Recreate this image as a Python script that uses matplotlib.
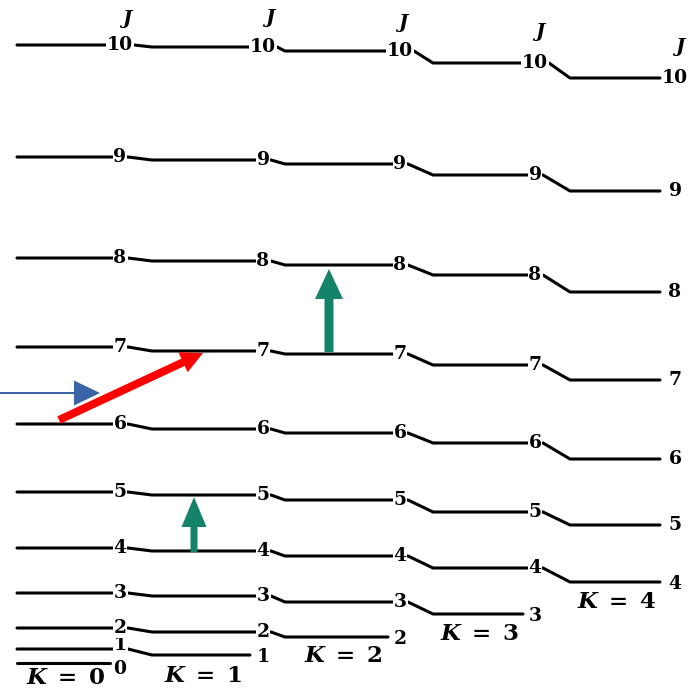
import matplotlib
matplotlib.use("Agg")
import matplotlib.pyplot as plt
from matplotlib.patches import FancyArrow

plt.rcParams['mathtext.fontset'] = 'custom'
plt.rcParams['mathtext.it'] = 'DejaVu Serif:italic:bold'
plt.rcParams['mathtext.rm'] = 'DejaVu Serif:bold'

# ---- level heights (pixel rows of the scan), J = K .. 10 for each K column ----
K_values = [0, 1, 2, 3, 4]
J_max = 10
levels = {
    0: [663, 649, 628, 593, 548, 492, 424, 347, 258, 157, 45],
    1: [655, 632, 596, 551, 495, 429, 351, 261, 160, 47],
    2: [637, 602, 556, 500, 433, 354, 265, 164, 51],
    3: [614, 568, 512, 443, 365, 275, 175, 63],
    4: [582, 525, 459, 380, 292, 191, 78],
}
K_labels = [r'$K\;=\;0$', r'$K\;=\;1$', r'$K\;=\;2$', r'$K\;=\;3$', r'$K\;=\;4$']

# column geometry
col_start = [17, 152, 285, 433, 570]
col_end = [110, 250, 388, 523, 660]
lab_x = [120, 263, 400, 535, 675]
K_lab_pos = [(66, 677), (203, 675), (343, 656), (480, 633), (617, 602)]
J_head_pos = [(127, 19), (270, 18), (403, 23), (540, 32), (680, 47)]

fig = plt.figure(figsize=(6.93, 6.94), dpi=100)
ax = fig.add_axes([0, 0, 1, 1])
ax.set_xlim(0, 693)
ax.set_ylim(694, 0)
ax.axis('off')

lw = 2.2
for J in range(J_max + 1):
    cols = [K for K in K_values if K <= J]
    xs, ys = [], []
    for i, K in enumerate(cols):
        y = levels[K][J - K]
        xs.append(col_start[K])
        ys.append(y)
        if i < len(cols) - 1:
            hw = 14 if J >= 10 else 8
            xs.append(lab_x[K] + hw)
        else:
            xs.append(col_end[K])
        ys.append(y)
    ax.plot(xs, ys, color='black', lw=lw, solid_capstyle='round', zorder=2)

    for i, K in enumerate(cols):
        y = levels[K][J - K]
        dy = 0
        last = i == len(cols) - 1
        if J == 0:
            dy = 6
        elif J == 1 and K == 0:
            dy = -4
        elif last and K == J and K > 0:
            dy = 2
        ax.text(lab_x[K], y + dy, str(J), ha='center', va='center',
                fontsize=13.5, fontweight='bold', family='DejaVu Serif',
                zorder=3,
                bbox=None if last else dict(boxstyle='square,pad=0.05',
                                             fc='white', ec='none'))

for (x, y), lab in zip(K_lab_pos, K_labels):
    ax.text(x, y, lab, ha='center', va='center', fontsize=16.5, zorder=3)

for x, y in J_head_pos:
    ax.text(x, y, 'J', ha='center', va='center', fontsize=14,
            fontweight='bold', style='italic', family='DejaVu Serif')

green = '#15826A'
# green upward arrows
ax.add_patch(FancyArrow(194, 552, 0, 497 - 552, width=7, head_width=25,
                        head_length=30, length_includes_head=True,
                        color=green, lw=0, zorder=4))
ax.add_patch(FancyArrow(329, 352, 0, 269 - 352, width=9, head_width=28,
                        head_length=30, length_includes_head=True,
                        color=green, lw=0, zorder=4))
# red diagonal arrow
ax.add_patch(FancyArrow(59, 420, 203 - 59, 353 - 420, width=8, head_width=22,
                        head_length=22, length_includes_head=True,
                        color='#FF0000', lw=0, zorder=4))
# blue incoming arrow
ax.add_patch(FancyArrow(0, 393, 100, 0, width=2, head_width=25,
                        head_length=26, length_includes_head=True,
                        color='#3A63A8', lw=0, zorder=4))

fig.savefig('out.png', dpi=100)
